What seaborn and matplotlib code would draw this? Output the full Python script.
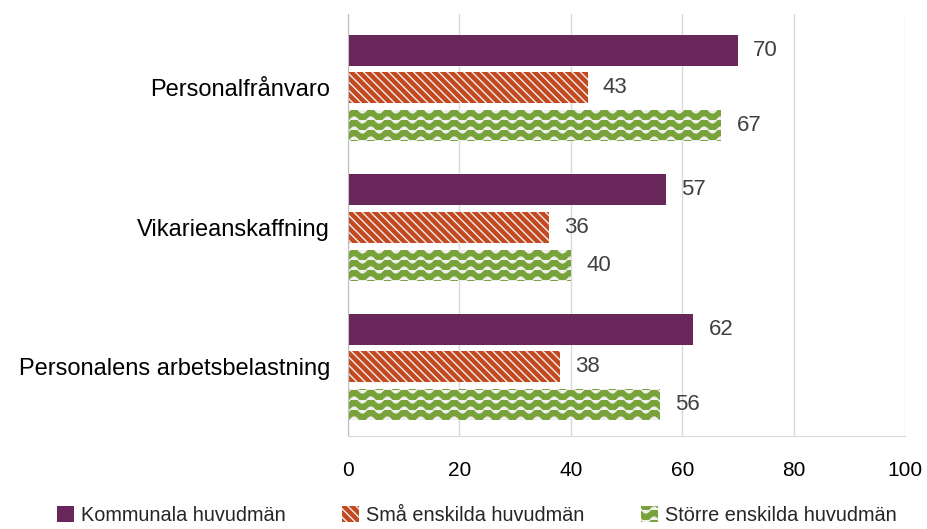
import matplotlib
matplotlib.use("Agg")
import matplotlib.pyplot as plt
import matplotlib.hatch as mhatch
from matplotlib.path import Path
import numpy as np
import seaborn as sns
import pandas as pd
from matplotlib.patches import Patch

# data
categories = ["Personalfrånvaro", "Vikarieanskaffning", "Personalens arbetsbelastning"]
series = ["Kommunala huvudmän", "Små enskilda huvudmän", "Större enskilda huvudmän"]
kommunala = [70, 57, 62]
sma = [43, 36, 38]
storre = [67, 40, 56]

colors = ["#69265A", "#C34A20", "#77A33A"]
hatches = ["", "\\\\\\\\", "-"]


# wavy hatch instead of the plain horizontal one (Excel "wave" pattern)
class WaveHatch(mhatch.HatchPatternBase):
    def __init__(self, hatch, density):
        n = hatch.count("-")
        self.rows = 10 * n
        self.pts = 6 * 12 + 1
        self.num_vertices = (self.rows + 1) * self.pts if n else 0

    def set_vertices_and_codes(self, vertices, codes):
        xs = np.linspace(0, 1, self.pts)
        ys = 0.03 * np.sin(2 * np.pi * 6 * xs)
        for i, y0 in enumerate(np.linspace(0, 1, self.rows + 1)):
            s = slice(i * self.pts, (i + 1) * self.pts)
            vertices[s, 0] = xs
            vertices[s, 1] = y0 + ys
            codes[s] = Path.LINETO
            codes[i * self.pts] = Path.MOVETO


mhatch._hatch_types[0] = WaveHatch

df = pd.DataFrame({
    "Kategori": categories * 3,
    "Grupp": [series[0]] * 3 + [series[1]] * 3 + [series[2]] * 3,
    "Andel": kommunala + sma + storre,
})

sns.set_style("white")
plt.rcParams["font.family"] = ["Liberation Sans", "DejaVu Sans"]
plt.rcParams["hatch.color"] = "#EFEFEF"
plt.rcParams["hatch.linewidth"] = 1.0

fig = plt.figure(figsize=(9.27, 5.29), dpi=100)
ax = fig.add_axes([0.3754, 0.1758, 0.6009, 0.7977])

sns.barplot(data=df, y="Kategori", x="Andel", hue="Grupp", order=categories,
            hue_order=series, palette=colors, saturation=1, width=0.814, gap=0.18,
            orient="h", ax=ax, legend=False)

for cont, h in zip(ax.containers, hatches):
    for p in cont:
        p.set_hatch(h)
        p.set_edgecolor("#EFEFEF")
        p.set_linewidth(0)
    ax.bar_label(cont, padding=11, fontsize=16, color="#404040")

ax.set_xlim(0, 100)
ax.set_ylim(2.495, -0.53)
ax.set_xticks([0, 20, 40, 60, 80, 100])
ax.grid(axis="x", color="#D9D9D9", linewidth=1)
ax.set_axisbelow(True)
for s in ["top", "right"]:
    ax.spines[s].set_visible(False)
ax.spines["left"].set_color("#BFBFBF")
ax.spines["bottom"].set_color("#D9D9D9")
ax.tick_params(axis="x", labelsize=15, colors="black", length=0, pad=18)
ax.tick_params(axis="y", labelsize=17, colors="black", length=0, pad=13)
ax.set_xlabel("")
ax.set_ylabel("")

handles = [Patch(facecolor=c, hatch=h, edgecolor="#EFEFEF", linewidth=0) for c, h in zip(colors, hatches)]
fig.legend(handles, series, loc="center", bbox_to_anchor=(0.514, 0.025), ncol=3,
           frameon=False, fontsize=14.3, handlelength=0.85, handleheight=0.85,
           handletextpad=0.35, columnspacing=2.85, borderpad=0)

fig.savefig("out.png", dpi=100)
